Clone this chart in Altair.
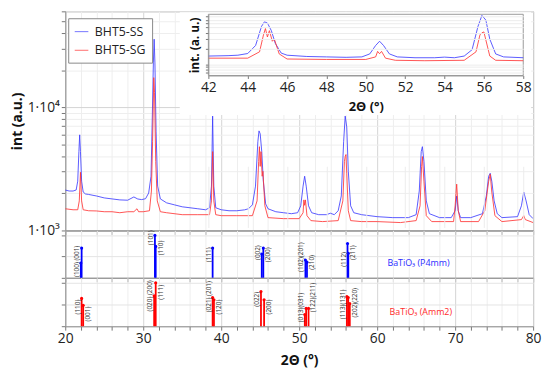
import altair as alt
import pandas as pd

# ---------------- measured XRD patterns (2θ in °, intensity in a.u.) ----------------
ss_2theta = [20.0, 20.5, 21.0, 21.4, 21.6, 21.75, 21.85, 21.95, 22.1, 22.3, 22.6, 23.0, 24.0, 25.0,
             26.0, 27.0, 28.0, 28.8, 29.3, 29.8, 30.3, 30.7, 31.0, 31.15, 31.3, 31.4, 31.5, 31.65,
             31.85, 32.2, 33.0, 34.0, 35.0, 36.0, 37.0, 38.0, 38.5, 38.75, 38.9, 39.05, 39.3, 40.0,
             41.0, 42.0, 43.0, 43.5, 44.0, 44.4, 44.7, 44.85, 45.0, 45.2, 45.4, 45.7, 46.0, 47.0,
             48.0, 49.0, 49.8, 50.2, 50.5, 50.7, 50.9, 51.2, 51.6, 52.5, 53.5, 54.0, 54.5, 55.0,
             55.4, 55.7, 55.9, 56.1, 56.3, 56.6, 57.0, 58.0, 60.0, 62.0, 64.0, 65.0, 65.4, 65.65,
             65.8, 66.0, 66.3, 66.7, 68.0, 69.5, 70.0, 70.2, 70.4, 70.7, 72.0, 73.5, 74.0, 74.3,
             74.5, 74.7, 75.0, 75.4, 76.0, 78.0, 78.5, 78.8, 79.1, 79.5, 80.0]
ss_intensity = [2128, 2090, 2089, 2130, 2512, 4365, 5970, 4365, 2512, 2051, 1977, 1960, 1905, 1837,
                1803, 1770, 1760, 1870, 1800, 1780, 1810, 2014, 2754, 7586, 22900, 35650, 22900, 6310,
                2291, 1803, 1675, 1614, 1556, 1528, 1500, 1472, 1528, 2291, 8472, 2291, 1528, 1472,
                1445, 1445, 1470, 1500, 1614, 2291, 5248, 6427, 6081, 4365, 2512, 1644, 1500, 1419,
                1393, 1368, 1393, 1585, 2291, 2754, 2291, 1585, 1393, 1343, 1343, 1380, 1343, 1445,
                1905, 5248, 8472, 6918, 3020, 1585, 1393, 1343, 1294, 1271, 1271, 1343, 2089, 4365,
                4786, 3631, 1738, 1368, 1271, 1271, 1445, 1905, 1445, 1271, 1271, 1368, 1905, 2754,
                2911, 2512, 1738, 1368, 1271, 1294, 1585, 2051, 1738, 1343, 1247]

sg_2theta = [20.0, 21.0, 21.6, 21.8, 21.95, 22.1, 22.3, 23.0, 24.0, 25.0, 26.0, 27.0, 28.0, 28.8,
             29.2, 29.4, 30.0, 30.8, 31.05, 31.2, 31.35, 31.45, 31.6, 31.8, 32.2, 33.0, 35.0, 37.0,
             38.5, 38.75, 38.9, 39.05, 39.3, 40.0, 42.0, 44.0, 44.6, 44.8, 44.9, 45.0, 45.1, 45.25,
             45.35, 45.6, 46.0, 48.0, 50.0, 50.5, 50.6, 50.7, 50.8, 51.0, 51.5, 53.0, 55.0, 55.6,
             55.8, 55.9, 56.0, 56.1, 56.3, 56.6, 58.0, 60.0, 63.0, 65.0, 65.5, 65.7, 65.8, 66.0,
             66.3, 67.0, 69.8, 70.0, 70.2, 70.4, 70.7, 73.0, 73.8, 74.3, 74.5, 74.7, 75.1, 76.0,
             78.5, 78.8, 79.0, 80.0]
sg_intensity = [1500, 1472, 1472, 1738, 2965, 1738, 1472, 1445, 1440, 1419, 1419, 1393, 1419, 1419,
                1500, 1419, 1419, 1445, 2089, 5248, 17380, 13180, 3631, 1738, 1419, 1393, 1343, 1343,
                1343, 1738, 4365, 1738, 1343, 1318, 1318, 1318, 1738, 3631, 4786, 3311, 4365, 2754,
                3020, 1585, 1271, 1247, 1247, 1393, 1770, 1600, 1770, 1318, 1202, 1180, 1202, 1738,
                3631, 3981, 4130, 2911, 1445, 1202, 1180, 1180, 1159, 1202, 1585, 3311, 3981, 2512,
                1318, 1180, 1180, 1585, 2377, 1445, 1180, 1180, 1445, 2512, 2858, 2051, 1318, 1180,
                1225, 1318, 1225, 1159]

series_names = ["BHT5-SS", "BHT5-SG"]
series_colors = ["#3d3dff", "#ff3535"]

# ---------------- reference stick patterns (relative intensity, %) ----------------
p4mm_2theta = [22.0, 22.1, 31.5, 31.6, 38.9, 45.2, 45.4, 50.8, 51.0, 56.2, 56.3]
p4mm_intensity = [35, 70, 100, 74, 70, 56, 70, 42, 37, 81, 58]
p4mm_label_text = ["(100) (001)", "(101)", "(110)", "(111)", "(002)", "(200)",
                   "(102)(201)", "(210)", "(112)", "(211)"]
p4mm_label_2theta = [22.0, 31.5, 31.6, 38.9, 45.2, 45.4, 50.8, 51.0, 56.2, 56.3]
p4mm_label_height = [2, 77, 53, 37, 42, 37, 14, 19, 26, 42]
p4mm_label_side = ["L", "L", "R", "L", "L", "R", "L", "R", "L", "R"]

amm2_2theta = [22.1, 22.3, 31.4, 31.6, 38.9, 39.07, 45.1, 45.5, 50.72, 50.89, 51.2, 56.12, 56.29, 56.49]
amm2_intensity = [64, 48, 70, 100, 66, 61, 80, 61, 27, 41, 41, 68, 66, 52]
amm2_label_text = ["(110)", "(001)", "(020) (200)", "(111)", "(021) (201)", "(120)", "(022)", "(200)",
                   "(013)(031)", "(122)(211)", "(113)(131)", "(202)(220)"]
amm2_label_2theta = [22.1, 22.3, 31.4, 31.6, 38.9, 39.07, 45.1, 45.5, 50.72, 51.2, 56.12, 56.49]
amm2_label_height = [27, 11, 34, 61, 32, 27, 45, 27, 9, 32, 16, 20]
amm2_label_side = ["L", "R", "L", "R", "L", "R", "L", "R", "L", "R", "L", "R"]

phase_names = ["BaTiO₃ (P4mm)", "BaTiO₃ (Amm2)"]
phase_colors = ["#2a2aff", "#ff2a2a"]
stick_colors = ["#0000ff", "#ff0000"]

# ---------------- build tables ----------------
curves = pd.concat([
    pd.DataFrame({"two_theta": ss_2theta, "intensity": ss_intensity, "sample": series_names[0]}),
    pd.DataFrame({"two_theta": sg_2theta, "intensity": sg_intensity, "sample": series_names[1]}),
], ignore_index=True)

W = 474
H_MAIN = 222
H_P4 = 48
H_AM = 49
FONT = "Open Sans"

x_ticks = list(range(20, 81, 2))
grid_x = {"condition": {"test": "datum.value % 10 === 0", "value": "#d4d4d4"}, "value": "#eeeeee"}


def x_axis(show_labels):
    kw = dict(values=x_ticks, tickSize=4, grid=True, gridColor=grid_x,
              domainColor="#999", tickColor="#777", labelFlush=False)
    if show_labels:
        return alt.Axis(labels=True, labelExpr="datum.value % 10 === 0 ? datum.label : ''",
                        labelFontSize=14, labelPadding=2, labelColor="#222",
                        title="2Θ (°)", titleFontSize=14, titleFontWeight="bold",
                        titlePadding=8, titleColor="#111", **kw)
    return alt.Axis(labels=False, title=None, **kw)


# ---------------- main panel ----------------
y_vals = [1000 * i for i in range(1, 10)] + [10000 * i for i in range(1, 7)]
grid_y = {"condition": {"test": "datum.value === 1000 || datum.value === 10000", "value": "#d4d4d4"},
          "value": "#eeeeee"}

x_main = alt.X("two_theta:Q", scale=alt.Scale(domain=[20, 80], nice=False, zero=False),
               axis=x_axis(False))
y_main = alt.Y("intensity:Q",
               scale=alt.Scale(type="log", domain=[1000, 60000], nice=False),
               axis=alt.Axis(values=y_vals, tickSize=4, grid=True, gridColor=grid_y,
                             labelExpr="datum.value === 10000 ? '1·10⁴' : (datum.value === 1000 ? '1·10³' : '')",
                             labelFontSize=14, labelColor="#222", labelPadding=2,
                             title="int (a.u.)", titleFontSize=14, titleFontWeight="bold",
                             titlePadding=3, titleColor="#111",
                             domainColor="#999", tickColor="#777"))

color = alt.Color("sample:N", scale=alt.Scale(domain=series_names, range=series_colors),
                  legend=alt.Legend(orient="none", legendX=3, legendY=7, title=None,
                                    strokeColor="#888", fillColor="white", padding=6,
                                    labelFontSize=12.5, labelColor="#222", symbolType="stroke",
                                    symbolSize=190, symbolStrokeWidth=1.2, symbolOpacity=0.6,
                                    rowPadding=5, labelOffset=6))

main_lines = alt.Chart(curves).mark_line(strokeWidth=1, opacity=0.85, clip=True).encode(
    x=x_main, y=y_main, color=color)

cover = alt.Chart(pd.DataFrame({"k": [0]})).mark_rect(fill="white").encode(
    x=alt.value(116), x2=alt.value(472), y=alt.value(1), y2=alt.value(105))

main_layer = alt.layer(main_lines, cover)

# ---------------- inset (42–58°) ----------------
inset_x = alt.X("two_theta:Q",
                scale=alt.Scale(domain=[42, 58], range=[145, 464], nice=False, zero=False),
                axis=alt.Axis(orient="bottom", offset=65 - H_MAIN,
                              values=[42 + 0.5 * i for i in range(33)],
                              labelExpr="datum.value % 2 === 0 ? datum.label : ''",
                              labelFlush=False, tickSize=3, labelFontSize=14, labelPadding=2,
                              labelColor="#222", title="2Θ (°)", titleFontSize=13,
                              titleFontWeight="bold", titlePadding=6, titleColor="#111",
                              grid=True, gridColor="#ececec", zindex=1,
                              domainColor="#999", tickColor="#777"))
inset_y = alt.Y("intensity:Q",
                scale=alt.Scale(type="log", domain=[620, 8900], range=[65, 3], nice=False),
                axis=alt.Axis(orient="left", offset=-145,
                              values=[700, 800, 900, 1000, 2000, 3000, 4000, 5000, 6000, 7000, 8000],
                              labels=False, tickSize=3, title="int. (a. u.)", titleFontSize=12,
                              titleFontWeight="bold", titlePadding=4, titleColor="#111",
                              grid=True, gridColor="#ececec", zindex=1,
                              domainColor="#999", tickColor="#777"))

inset_base = alt.Chart(curves).transform_filter(
    "datum.two_theta >= 42 && datum.two_theta <= 58")
inset_frame = alt.Chart(pd.DataFrame({"k": [0]})).mark_rect(
    fillOpacity=0, stroke="#999", strokeWidth=1).encode(
    x=alt.datum(42), x2=alt.datum(58), y=alt.datum(620), y2=alt.datum(8900))
inset_ss = inset_base.transform_filter(alt.datum.sample == series_names[0]).mark_line(
    strokeWidth=1, opacity=0.85, color=series_colors[0]).encode(x=inset_x, y=inset_y)
inset_sg = inset_base.transform_filter(alt.datum.sample == series_names[1]).mark_line(
    strokeWidth=1, opacity=0.85, color=series_colors[1]).encode(x=inset_x, y=inset_y)

inset_layer = alt.layer(inset_frame, inset_ss, inset_sg)

main = alt.layer(main_layer, inset_layer).resolve_scale(
    x="independent", y="independent").properties(width=W, height=H_MAIN)


# ---------------- stick panels ----------------
def stick_panel(pos, inten, lab_text, lab_pos, lab_h, lab_side, col, phase, phase_col,
                phase_x, phase_y, height, top, show_labels):
    sticks = pd.DataFrame({"pos": pos, "rel": inten})
    labels = pd.DataFrame({"pos": lab_pos, "rel": lab_h, "hkl": lab_text, "side": lab_side})
    xs = alt.X("pos:Q", scale=alt.Scale(domain=[20, 80], nice=False, zero=False),
               axis=x_axis(show_labels))
    ys = alt.Y("rel:Q", scale=alt.Scale(domain=[0, top], nice=False, zero=True),
               axis=alt.Axis(values=[0, 50, 100], labels=False, title=None, tickSize=4,
                             grid=True, gridColor="#e4e4e4", domainColor="#999",
                             tickColor="#777"))
    rules = alt.Chart(sticks).mark_rule(color=col, strokeWidth=1.8).encode(
        x=xs, y=ys, y2=alt.datum(0))
    dots = alt.Chart(sticks).mark_circle(color=col, size=10, opacity=1).encode(x=xs, y=ys)
    lab_l = alt.Chart(labels).transform_filter(alt.datum.side == "L").mark_text(
        angle=270, align="left", baseline="bottom", dy=-1, fontSize=6.5, color="#333").encode(
        x=xs, y=ys, text="hkl:N")
    lab_r = alt.Chart(labels).transform_filter(alt.datum.side == "R").mark_text(
        angle=270, align="left", baseline="top", dy=2, fontSize=6.5, color="#333").encode(
        x=xs, y=ys, text="hkl:N")
    name = alt.Chart(pd.DataFrame({"pos": [phase_x], "rel": [phase_y], "t": [phase]})).mark_text(
        fontSize=9, color=phase_col, align="center", baseline="middle").encode(
        x=xs, y=ys, text="t:N")
    return alt.layer(rules, dots, lab_l, lab_r, name).properties(width=W, height=height)


p4 = stick_panel(p4mm_2theta, p4mm_intensity, p4mm_label_text, p4mm_label_2theta,
                 p4mm_label_height, p4mm_label_side, stick_colors[0], phase_names[0],
                 phase_colors[0], 65.3, 35, H_P4, 111.6, False)
am = stick_panel(amm2_2theta, amm2_intensity, amm2_label_text, amm2_label_2theta,
                 amm2_label_height, amm2_label_side, stick_colors[1], phase_names[1],
                 phase_colors[1], 65.6, 32, H_AM, 111.4, True)

chart = alt.vconcat(main, p4, am, spacing=0, bounds="flush").resolve_scale(
    x="independent", y="independent").properties(
    padding={"left": 1, "top": 0, "right": 0, "bottom": 0}).configure(
    font=FONT).configure_view(stroke="#999", strokeWidth=1)

chart.save("out.html", embed_options={"renderer": "svg", "actions": False})
